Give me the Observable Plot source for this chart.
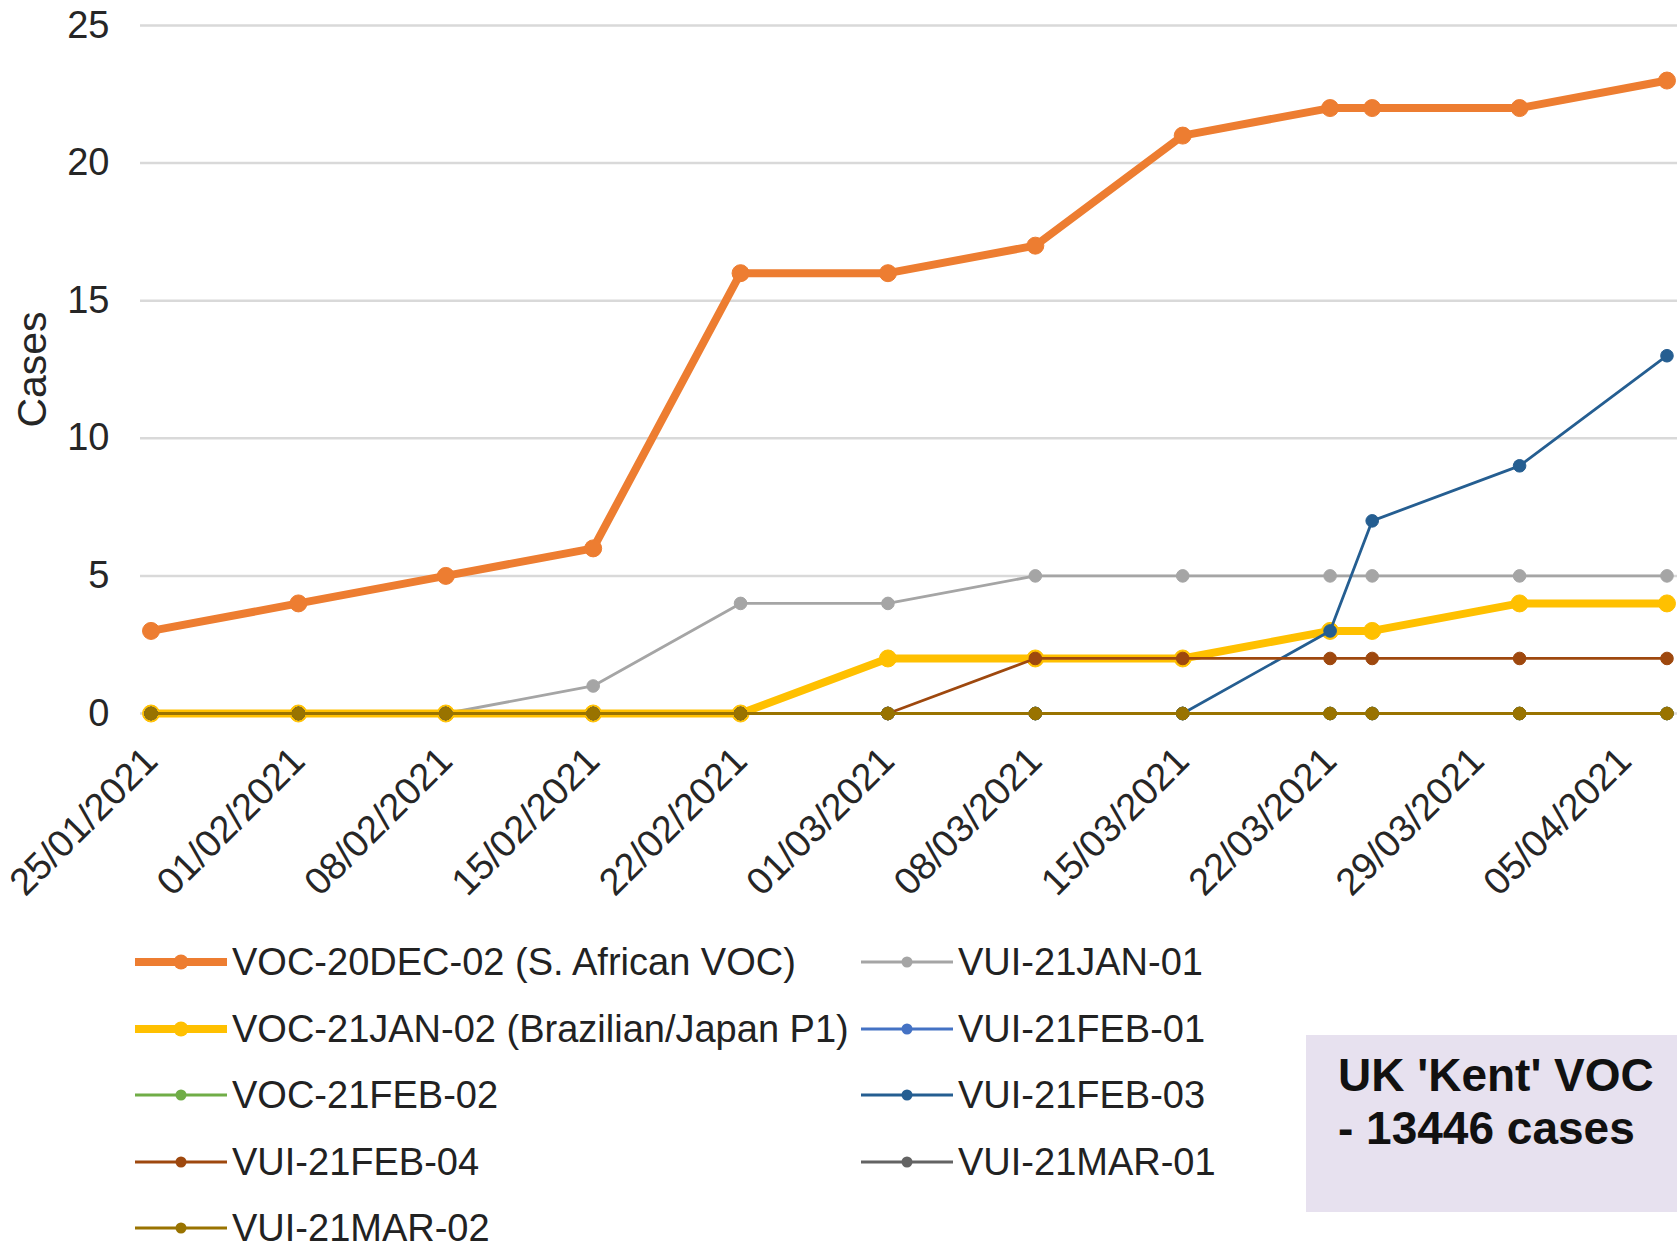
<!DOCTYPE html>
<html>
<head>
<meta charset="utf-8">
<script src="https://cdn.jsdelivr.net/npm/d3@7"></script>
<script src="https://cdn.jsdelivr.net/npm/@observablehq/plot@0.6"></script>
<style>
  body { margin: 0; background: #fff; font-family: "Liberation Sans", Arial, sans-serif; }
  #wrap { position: relative; width: 1677px; height: 1251px; overflow: hidden; background: #fff; }
  #chart { position: absolute; left: 0; top: 0; }
  #legend { position: absolute; left: 135px; top: 929px; display: grid; grid-template-columns: 726px auto; grid-auto-rows: 66.5px; }
  .item { display: flex; align-items: center; font-size: 38px; line-height: 38px; color: #222; white-space: nowrap; }
  .item svg { flex: none; margin-right: 5px; }
  #box { position: absolute; left: 1306px; top: 1035px; width: 400px; height: 177px; background: #e7e1ef; }
  #box div { position: absolute; left: 32px; top: 14px; font-size: 46px; font-weight: bold; line-height: 53px; color: #111; white-space: nowrap; }
</style>
</head>
<body>
<div id="wrap">
  <div id="chart"></div>
  <div id="legend"></div>
  <div id="box"><div>UK 'Kent' VOC<br>- 13446 cases</div></div>
</div>
<script>
// ---- data ----
const dates = ["2021-01-25","2021-02-01","2021-02-08","2021-02-15","2021-02-22","2021-03-01","2021-03-08","2021-03-15","2021-03-22","2021-03-24","2021-03-31","2021-04-07"];
const tickDates = ["2021-01-25","2021-02-01","2021-02-08","2021-02-15","2021-02-22","2021-03-01","2021-03-08","2021-03-15","2021-03-22","2021-03-29","2021-04-05"];
const yTicks = [0, 5, 10, 15, 20, 25];

const seriesNames = [
  "VOC-20DEC-02 (S. African VOC)",
  "VUI-21JAN-01",
  "VOC-21JAN-02 (Brazilian/Japan P1)",
  "VUI-21FEB-01",
  "VOC-21FEB-02",
  "VUI-21FEB-03",
  "VUI-21FEB-04",
  "VUI-21MAR-01",
  "VUI-21MAR-02"
];
const voc20dec02 = [3, 4, 5, 6, 16, 16, 17, 21, 22, 22, 22, 23];
const vui21jan01 = [0, 0, 0, 1, 4, 4, 5, 5, 5, 5, 5, 5];
const voc21jan02 = [0, 0, 0, 0, 0, 2, 2, 2, 3, 3, 4, 4];
const vui21feb01 = [0, 0, 0, 0, 0, 0, 0, 0, 0, 0, 0, 0];
const voc21feb02 = [0, 0, 0, 0, 0, 0, 0, 0, 0, 0, 0, 0];
const vui21feb03 = [0, 0, 0, 0, 0, 0, 0, 0, 3, 7, 9, 13];
const vui21feb04 = [0, 0, 0, 0, 0, 0, 2, 2, 2, 2, 2, 2];
const vui21mar01 = [0, 0, 0, 0, 0, 0, 0, 0, 0, 0, 0, 0];
const vui21mar02 = [0, 0, 0, 0, 0, 0, 0, 0, 0, 0, 0, 0];
const seriesValues = [voc20dec02, vui21jan01, voc21jan02, vui21feb01, voc21feb02, vui21feb03, vui21feb04, vui21mar01, vui21mar02];
const colors = ["#ED7D31", "#A5A5A5", "#FFC000", "#4472C4", "#70AD47", "#255E91", "#9E480E", "#636363", "#997300"];
const thick = [true, false, true, false, false, false, false, false, false];

// ---- build ----
const parse = d3.utcParse("%Y-%m-%d");
const seriesData = seriesValues.map((vals, i) => dates.map((d, j) => ({date: parse(d), value: vals[j], series: seriesNames[i]})));

const seriesMarks = seriesData.flatMap((data, i) => [
  Plot.line(data, {x: "date", y: "value", stroke: colors[i], strokeWidth: thick[i] ? 8 : 2.8, strokeLinejoin: "round", strokeLinecap: "round"}),
  Plot.dot(data, {x: "date", y: "value", fill: colors[i], stroke: colors[i], r: thick[i] ? 8.5 : 6.3, strokeWidth: 1})
]);

const chart = Plot.plot({
  width: 1677,
  height: 940,
  marginLeft: 140,
  marginRight: 0,
  marginTop: 25,
  marginBottom: 227,
  style: {fontFamily: "'Liberation Sans', Arial, sans-serif", fontSize: "38px", color: "#262626", background: "transparent", overflow: "visible"},
  x: {type: "utc", domain: [new Date(Date.UTC(2021, 0, 24, 12)), new Date(Date.UTC(2021, 3, 7, 12))]},
  y: {domain: [0, 25]},
  marks: [
    Plot.gridY(yTicks, {stroke: "#d9d9d9", strokeOpacity: 1, strokeWidth: 2.5}),
    Plot.axisY(yTicks, {tickSize: 0, tickPadding: 31, fontSize: 38, label: "Cases", labelAnchor: "center", labelArrow: "none", labelOffset: 124}),
    Plot.axisX(tickDates.map(parse), {tickSize: 0, tickPadding: 41, tickRotate: -45, fontSize: 38, tickFormat: d3.utcFormat("%d/%m/%Y"), label: null}),
    ...seriesMarks
  ]
});
d3.select(chart).selectAll('g[aria-label="y-axis label"]').attr("font-size", 41);
d3.select(chart).selectAll('g[aria-label="y-axis label"] text').attr("font-size", 41);
document.getElementById("chart").appendChild(chart);

// ---- legend ----
const legend = d3.select("#legend");
seriesNames.forEach((name, i) => {
  const item = legend.append("div").attr("class", "item");
  const svg = item.append("svg").attr("width", 92).attr("height", 24);
  svg.append("line").attr("x1", 0).attr("x2", 92).attr("y1", 12).attr("y2", 12)
    .attr("stroke", colors[i]).attr("stroke-width", thick[i] ? 8 : 2.8);
  svg.append("circle").attr("cx", 46).attr("cy", 12).attr("r", thick[i] ? 7.5 : 5.5).attr("fill", colors[i]);
  item.append("span").text(name);
});
</script>
</body>
</html>
